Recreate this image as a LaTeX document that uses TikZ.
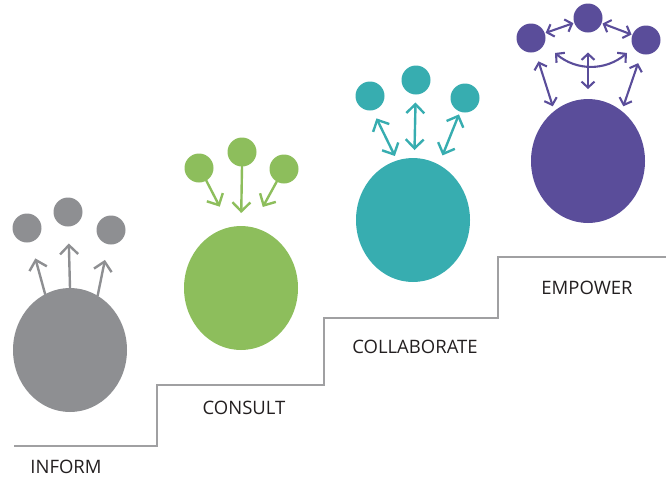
\documentclass[tikz,border=0pt]{standalone}
\usepackage{fontspec}
\setmainfont{Open Sans}
\usetikzlibrary{shapes.geometric,arrows.meta}
\definecolor{informgray}{RGB}{142,143,146}
\definecolor{consultgreen}{RGB}{141,190,92}
\definecolor{collabteal}{RGB}{55,173,176}
\definecolor{empowerpurple}{RGB}{90,77,154}
\definecolor{stairgray}{RGB}{160,160,162}
\definecolor{labelblack}{RGB}{35,31,32}
\begin{document}
\begin{tikzpicture}[x=1pt, y=-1pt, >={Straight Barb[length=9pt,width=18pt]},
    big/.style={ellipse, fill=#1, minimum width=114pt, minimum height=124pt, inner sep=0pt, outer sep=0pt},
    small/.style={circle, fill=#1, minimum size=29pt, inner sep=0pt, outer sep=0pt},
    arr/.style={draw=#1, line width=2.4pt, line cap=round},
    thinarr/.style={draw=#1, line width=2.1pt, line cap=round, >={Straight Barb[length=6pt,width=13pt]}},
    stair/.style={draw=stairgray, line width=1.6pt},
    stage/.style={font=\fontsize{18.5}{20}\selectfont, text=labelblack}]
    \useasboundingbox (0,0) rectangle (666,480);
    \draw [stair] (14,446) -- (157,446) -- (157,385) -- (324,385) -- (324,318) -- (498,318) -- (498,257) -- (666,257);

    \node[big=informgray] (inform) at (70,350) {};
    \node[small=informgray] (i1) at (27,228) {};
    \node[small=informgray] (i2) at (68,212) {};
    \node[small=informgray] (i3) at (111,230) {};
    \draw [arr=informgray, ->, shorten >=17pt] (inform.114) -- (i1);
    \draw [arr=informgray, ->, shorten >=17pt] (inform.north) -- (i2);
    \draw [arr=informgray, ->, shorten >=16pt] (inform.63) -- (i3);
    \node[stage] (inform label) at (66,467) {INFORM};

    \node[big=consultgreen] (consult) at (241,288) {};
    \node[small=consultgreen] (g1) at (199,168) {};
    \node[small=consultgreen] (g2) at (242,152) {};
    \node[small=consultgreen] (g3) at (284,169) {};
    \draw [arr=consultgreen, ->, shorten >=23pt] (g1.-60) -- (consult.100);
    \draw [arr=consultgreen, ->, shorten >=13pt] (g2.south) -- (consult.north);
    \draw [arr=consultgreen, ->, shorten >=23pt] (g3.-120) -- (consult.80);
    \node[stage] (consult label) at (244,408) {CONSULT};

    \node[big=collabteal] (collab) at (413,220) {};
    \node[small=collabteal] (t1) at (370,96) {};
    \node[small=collabteal] (t2) at (416,80) {};
    \node[small=collabteal] (t3) at (465,98) {};
    \draw [arr=collabteal, <->, shorten <=9pt, shorten >=5pt] (t1.-80) -- (collab.105);
    \draw [arr=collabteal, <->, shorten <=8pt, shorten >=8pt] (t2) -- (collab);
    \draw [arr=collabteal, <->, shorten <=3pt, shorten >=10pt] (t3.-110) -- (collab.65);
    \node[stage] (collab label) at (415,347) {COLLABORATE};

    \node[big=empowerpurple] (empower) at (588,161) {};
    \node[small=empowerpurple] (e1) at (531,38) {};
    \node[small=empowerpurple] (e2) at (588,18) {};
    \node[small=empowerpurple] (e3) at (646,40) {};
    \coordinate (swing left) at (555,53);
    \coordinate (swing right) at (627,53);
    \draw [thinarr=empowerpurple, <->, shorten <=1pt, shorten >=1pt] (e1) -- (e2);
    \draw [thinarr=empowerpurple, <->, shorten <=1pt, shorten >=1pt] (e2) -- (e3);
    \draw [thinarr=empowerpurple, <->, shorten <=20pt, shorten >=10pt] (e2) -- (empower);
    \draw [thinarr=empowerpurple, <->] (swing left) to[bend right=40] (swing right);
    \draw [thinarr=empowerpurple, <->, shorten <=10pt, shorten >=5pt] (e1) -- (empower.124);
    \draw [thinarr=empowerpurple, <->, shorten <=10pt, shorten >=5pt] (e3) -- (empower.56);
    \node[stage] (empower label) at (587,288) {EMPOWER};
    \end{tikzpicture}
\end{document}
